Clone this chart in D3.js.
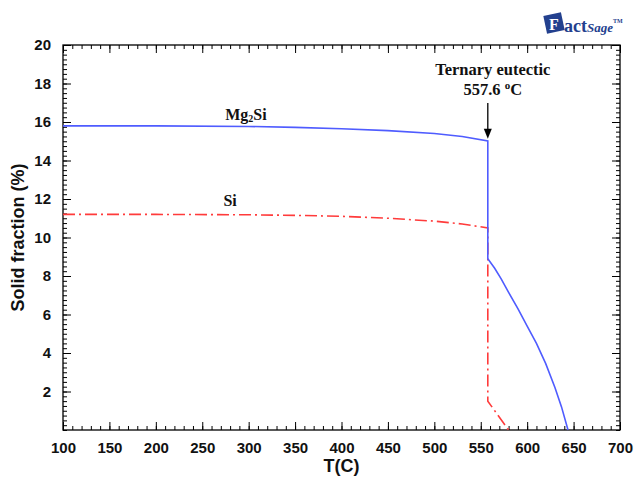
<!DOCTYPE html>
<html>
<head>
<meta charset="utf-8">
<script src="https://cdn.jsdelivr.net/npm/d3@7"></script>
<style>
  body { margin: 0; background: #fff; }
  svg { display: block; }
</style>
</head>
<body>
<div id="chart"></div>
<script>
// data
var mgT = [100, 200, 300, 350, 400, 450, 500, 530, 557.6, 557.6, 565, 572, 580, 590, 600, 610, 620, 630, 637, 644];
var mgF = [15.8, 15.8, 15.77, 15.72, 15.65, 15.55, 15.4, 15.25, 15.02, 8.9, 8.4, 7.85, 7.15, 6.3, 5.4, 4.5, 3.45, 2.2, 1.2, 0];
var siT = [100, 200, 300, 350, 400, 450, 500, 530, 557.6, 557.6, 580];
var siF = [11.2, 11.2, 11.18, 11.15, 11.1, 11.0, 10.85, 10.7, 10.5, 1.5, 0];
var xTicks = [100, 150, 200, 250, 300, 350, 400, 450, 500, 550, 600, 650, 700];
var yTicks = [2, 4, 6, 8, 10, 12, 14, 16, 18, 20];
var eutecticT = 557.6;

var W = 634, H = 479;
var margin = {top: 45, right: 14, bottom: 49, left: 63},
    width = W - margin.left - margin.right,
    height = H - margin.top - margin.bottom;

var svg = d3.select("#chart")
    .append("svg")
    .attr("width", W)
    .attr("height", H);

var g = svg.append("g")
    .attr("transform", "translate(" + margin.left + "," + margin.top + ")");

var x = d3.scaleLinear().domain([100, 700]).range([0, width]);
var y = d3.scaleLinear().domain([0, 20]).range([height, 0]);

var sans = "'Liberation Sans', Arial, sans-serif";
var serif = "'Liberation Serif', 'Times New Roman', serif";

// minor ticks, all pointing inward
var xMinor = d3.range(100, 701, 10);
var yMinor = d3.range(0, 20.01, 0.25);

function tickAxis(axis, transform, labels) {
    var a = g.append("g").attr("transform", transform).call(axis);
    a.select(".domain").remove();
    a.selectAll("line").attr("stroke", "#000").attr("stroke-width", 1);
    if (!labels) a.selectAll("text").remove();
    return a;
}

tickAxis(d3.axisBottom(x).tickValues(xMinor).tickSize(-4).tickFormat(""), "translate(0," + height + ")", false);
tickAxis(d3.axisTop(x).tickValues(xMinor).tickSize(-4).tickFormat(""), "translate(0,0)", false);
tickAxis(d3.axisLeft(y).tickValues(yMinor).tickSize(-4).tickFormat(""), "translate(0,0)", false);
tickAxis(d3.axisRight(y).tickValues(yMinor).tickSize(-4).tickFormat(""), "translate(" + width + ",0)", false);

var xb = tickAxis(d3.axisBottom(x).tickValues(xTicks).tickSize(-8).tickPadding(12), "translate(0," + height + ")", true);
xb.selectAll("text")
    .attr("font-family", sans).attr("font-weight", "bold").attr("font-size", 15).attr("fill", "#111");
tickAxis(d3.axisTop(x).tickValues(xTicks).tickSize(-8), "translate(0,0)", false);

var yl = tickAxis(d3.axisLeft(y).tickValues(yTicks).tickSize(-8).tickPadding(12), "translate(0,0)", true);
yl.selectAll("text")
    .attr("font-family", sans).attr("font-weight", "bold").attr("font-size", 15).attr("fill", "#111");
tickAxis(d3.axisRight(y).tickValues(yTicks).tickSize(-8), "translate(" + width + ",0)", false);

// frame
g.append("rect")
    .attr("width", width).attr("height", height)
    .attr("fill", "none").attr("stroke", "#000").attr("stroke-width", 1.3);

var line = d3.line()
    .x(function (d) { return x(d[0]); })
    .y(function (d) { return y(d[1]); });

g.append("path")
    .datum(d3.zip(siT, siF))
    .attr("d", line)
    .attr("fill", "none")
    .attr("stroke", "#ff3b3b")
    .attr("stroke-width", 1.6)
    .attr("stroke-dasharray", "12,4,2,4");

g.append("path")
    .datum(d3.zip(mgT, mgF))
    .attr("d", line)
    .attr("fill", "none")
    .attr("stroke", "#4f5cff")
    .attr("stroke-width", 1.6);

// curve labels
var mgLabel = g.append("text")
    .attr("x", x(297)).attr("y", y(15.8) - 6)
    .attr("text-anchor", "middle")
    .attr("font-family", serif).attr("font-weight", "bold").attr("font-size", 16).attr("fill", "#111");
mgLabel.append("tspan").text("Mg");
mgLabel.append("tspan").attr("font-size", 10).attr("dy", 2).text("2");
mgLabel.append("tspan").attr("dy", -2).text("Si");

g.append("text")
    .attr("x", x(280)).attr("y", y(11.2) - 8)
    .attr("text-anchor", "middle")
    .attr("font-family", serif).attr("font-weight", "bold").attr("font-size", 16).attr("fill", "#111")
    .text("Si");

// eutectic annotation
var ex = x(eutecticT) + 5;
g.append("text")
    .attr("x", ex).attr("y", 30)
    .attr("text-anchor", "middle")
    .attr("font-family", serif).attr("font-weight", "bold").attr("font-size", 16.5).attr("fill", "#111")
    .text("Ternary eutectic");
var et = g.append("text")
    .attr("x", ex).attr("y", 50)
    .attr("text-anchor", "middle")
    .attr("font-family", serif).attr("font-weight", "bold").attr("font-size", 16.5).attr("fill", "#111");
et.append("tspan").text("557.6 ");
et.append("tspan").attr("font-size", 11).attr("dy", -6).text("o");
et.append("tspan").attr("dy", 6).text("C");

var ax = x(eutecticT), ay0 = 58, ay1 = y(mgF[8]) - 2;
g.append("line")
    .attr("x1", ax).attr("x2", ax).attr("y1", ay0).attr("y2", ay1 - 8)
    .attr("stroke", "#000").attr("stroke-width", 1.3);
g.append("path")
    .attr("d", "M" + (ax - 4) + "," + (ay1 - 10) + "L" + (ax + 4) + "," + (ay1 - 10) + "L" + ax + "," + ay1 + "Z")
    .attr("fill", "#000");

// axis titles
svg.append("text")
    .attr("x", margin.left + width / 2).attr("y", 472)
    .attr("text-anchor", "middle")
    .attr("font-family", sans).attr("font-weight", "bold").attr("font-size", 18).attr("fill", "#111")
    .text("T(C)");

svg.append("text")
    .attr("transform", "translate(24," + (margin.top + height / 2) + ") rotate(-90)")
    .attr("text-anchor", "middle")
    .attr("font-family", sans).attr("font-weight", "bold").attr("font-size", 18).attr("fill", "#111")
    .text("Solid fraction (%)");

// FactSage logo
var logo = svg.append("g").attr("transform", "translate(545,12)");
logo.append("rect")
    .attr("x", 0).attr("y", 2).attr("width", 18).attr("height", 18)
    .attr("transform", "rotate(-12,9,11)")
    .attr("fill", "#23408e");
logo.append("text")
    .attr("x", 9).attr("y", 18).attr("text-anchor", "middle")
    .attr("font-family", serif).attr("font-weight", "bold").attr("font-size", 16).attr("fill", "#fff")
    .text("F");
var lt = logo.append("text")
    .attr("x", 19).attr("y", 20)
    .attr("font-family", serif).attr("font-weight", "bold").attr("fill", "#23408e");
lt.append("tspan").attr("font-size", 18).text("act");
lt.append("tspan").attr("font-size", 13).attr("font-style", "italic").text("Sage");
lt.append("tspan").attr("font-size", 6).attr("dy", -9).text("TM");
</script>
</body>
</html>
